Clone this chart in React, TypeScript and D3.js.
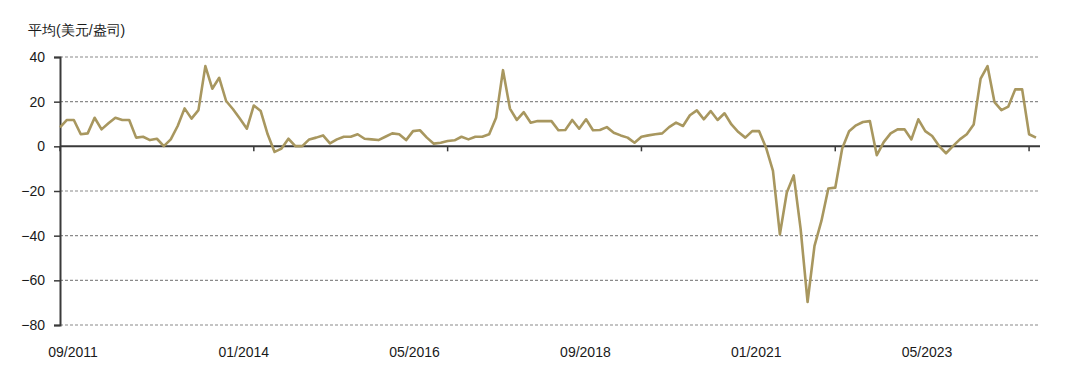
import * as d3 from "d3";
import { useEffect, useRef } from "react";

// monthly average, USD/oz, 09/2011 onwards
const values = [
  8.5, 11.8, 11.8, 5.4, 5.8, 12.8, 7.6, 10.3, 12.8, 11.8,
  11.8, 3.9, 4.3, 2.8, 3.4, 0.1, 3.1, 9.1, 17, 12.4,
  16.2, 35.9, 25.8, 30.7, 20.3, 16.6, 12.3, 7.9, 18.3, 15.8,
  5.4, -2.5, -1, 3.4, 0.1, 0.1, 3.1, 3.9, 4.9, 1.3,
  3.1, 4.3, 4.3, 5.4, 3.4, 3.1, 2.8, 4.3, 5.8, 5.4,
  2.8, 6.8, 7.2, 3.9, 1.2, 1.6, 2.4, 2.7, 4.3, 3.1,
  4.3, 4.3, 5.4, 12.8, 34.1, 16.9, 11.8, 15.3, 10.6, 11.3,
  11.3, 11.3, 7.2, 7.3, 11.8, 7.9, 12.1, 7.2, 7.3, 8.6,
  6.1, 4.9, 3.9, 1.6, 4.3, 4.9, 5.4, 5.8, 8.6, 10.6,
  9.1, 13.9, 16.1, 12.1, 15.8, 11.8, 14.8, 9.8, 6.4, 3.9,
  6.8, 6.8, -0.6, -11, -39.4, -20.7, -13, -37.1, -69.7, -44.6,
  -33.4, -18.9, -18.5, -1, 6.8, 9.4, 10.9, 11.3, -4, 1.9,
  5.8, 7.6, 7.6, 3.1, 12.1, 6.8, 4.6, 0.1, -3.1, 0.1,
  3.1, 5.4, 9.8, 30.3, 35.9, 19.8, 16.2, 17.8, 25.5, 25.5,
  5.4, 3.9,
];

const xLabels = ["09/2011", "01/2014", "05/2016", "09/2018", "01/2021", "05/2023"];
const xTickIdx = [0, 28, 56, 84, 112, 140];
const yTicks = [40, 20, 0, -20, -40, -60, -80];
const yTitle = "平均(美元/盎司)";

const W = 1080;
const H = 387;
const FONT = "'Liberation Sans', Arial, sans-serif";

function YAxis({ scale, x0, x1 }) {
  const ref = useRef(null);
  useEffect(() => {
    if (!ref.current) return;
    const g = d3.select(ref.current);
    g.selectAll("*").remove();
    g.call(d3.axisLeft(scale).tickValues(yTicks).tickSize(6).tickPadding(9));
    g.select(".domain").attr("stroke", "#3a3a3a").attr("stroke-width", 2);
    g.selectAll(".tick line").attr("stroke", "#3a3a3a").attr("stroke-width", 1.5);
    g.selectAll(".tick text")
      .attr("font-family", FONT)
      .attr("font-size", 14)
      .attr("fill", "#1a1a1a");
  }, [scale]);
  return <g ref={ref} transform={`translate(${x0},0)`} />;
}

export default function App() {
  const margin = { left: 60, right: 1040, top: 57, bottom: 325 };

  const x = d3.scaleLinear().domain([0, values.length - 1]).range([60, 1036]);
  const y = d3.scaleLinear().domain([-80, 40]).range([margin.bottom, margin.top]);
  const labelX = d3.scalePoint().domain(xLabels).range([73, 927]);

  const line = d3
    .line<number>()
    .x((_, i) => x(i))
    .y((d) => y(d))
    .curve(d3.curveLinear);

  return (
    <svg
      width={W}
      height={H}
      style={{ position: "absolute", left: 0, top: 0, background: "#fff" }}
    >
      <text x={28} y={35} fontFamily={FONT} fontSize={14} fill="#1a1a1a">
        {yTitle}
      </text>

      {yTicks
        .filter((t) => t !== 0)
        .map((t) => (
          <line
            key={`grid-${t}`}
            x1={margin.left}
            x2={margin.right}
            y1={y(t)}
            y2={y(t)}
            stroke="#8a8a8a"
            strokeWidth={1.2}
            strokeDasharray="3,2"
          />
        ))}

      <YAxis scale={y} x0={margin.left} x1={margin.right} />

      {/* zero line acts as the category axis */}
      <line x1={margin.left} x2={margin.right} y1={y(0)} y2={y(0)} stroke="#3a3a3a" strokeWidth={2} />
      {xTickIdx.map((i) => (
        <line
          key={`xt-${i}`}
          x1={x(i)}
          x2={x(i)}
          y1={y(0)}
          y2={y(0) + 5}
          stroke="#3a3a3a"
          strokeWidth={1.5}
        />
      ))}

      <path d={line(values) || ""} fill="none" stroke="#a8975f" strokeWidth={2.6} strokeLinejoin="round" />

      {xLabels.map((l) => (
        <text
          key={l}
          x={labelX(l)}
          y={357}
          textAnchor="middle"
          fontFamily={FONT}
          fontSize={14}
          fill="#1a1a1a"
        >
          {l}
        </text>
      ))}
    </svg>
  );
}
